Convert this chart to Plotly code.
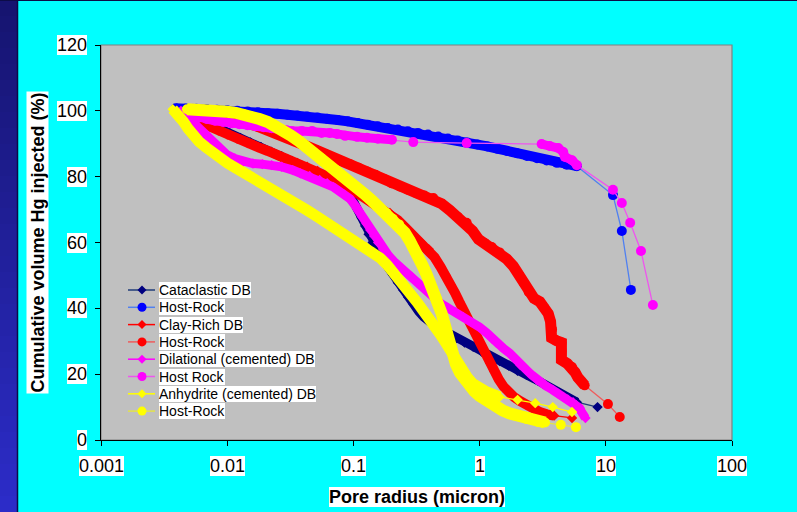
import math
import plotly.graph_objects as go

# ---------------------------------------------------------------
# Mercury injection curves: pore radius (micron) vs cumulative
# volume of Hg injected (%), deformation bands and their host rocks
# ---------------------------------------------------------------
cat_db_r = [0.0042, 0.005, 0.006, 0.0072, 0.0087, 0.0105, 0.0127, 0.0153, 0.0185, 0.0223,
            0.027, 0.0326, 0.039, 0.047, 0.056, 0.066, 0.077, 0.088, 0.1, 0.108,
            0.116, 0.124, 0.132, 0.142, 0.155, 0.17, 0.187, 0.205, 0.225, 0.248,
            0.272, 0.3, 0.33, 0.36, 0.4, 0.45, 0.51, 0.58, 0.66, 0.76,
            0.89, 1.04, 1.22, 1.44, 1.7, 2.0, 2.35, 2.75, 3.2, 3.7,
            4.3, 5.0, 5.9, 8.6]
cat_db_hg = [100, 99, 97.6, 96.2, 94.6, 93.2, 91.8, 90.4, 89, 87.6,
             86.2, 84.8, 83.4, 81.8, 80, 78.2, 76.4, 74.5, 72.5, 70,
             67.5, 65, 62.5, 60, 57.6, 55.2, 52.6, 50.2, 47.8, 45.6,
             43.4, 41.2, 39, 37.4, 35.8, 34.4, 33.4, 32.2, 31, 29.6,
             28.3, 26.8, 25.4, 24, 22.6, 21, 19.8, 18.5, 17, 15.6,
             14.2, 12.8, 11.5, 10]

host_blue_r = [0.0039, 0.0047, 0.0057, 0.0069, 0.0083, 0.01, 0.012, 0.0145, 0.0175, 0.021,
               0.025, 0.03, 0.036, 0.043, 0.052, 0.062, 0.075, 0.09, 0.108, 0.13,
               0.156, 0.187, 0.225, 0.27, 0.325, 0.39, 0.47, 0.56, 0.67, 0.8,
               0.96, 1.15, 1.38, 1.65, 1.98, 2.37, 2.85, 3.4, 4.1, 4.9,
               5.9, 11.4, 13.4, 15.8]
host_blue_hg = [100.8, 100.7, 100.6, 100.5, 100.3, 100.2, 100, 99.8, 99.6, 99.3,
                99.1, 98.8, 98.6, 98.3, 98, 97.6, 97.2, 96.8, 96.3, 95.8,
                95.3, 94.8, 94.3, 93.8, 93.3, 92.8, 92.2, 91.6, 91, 90.4,
                89.8, 89.2, 88.5, 87.8, 87.1, 86.3, 85.6, 84.9, 84.2, 83.6,
                83.2, 74.4, 63.5, 45.6]

clay_db_r = [0.0048, 0.0054, 0.0062, 0.0072, 0.0085, 0.01, 0.012, 0.0145, 0.0175, 0.021,
             0.025, 0.03, 0.036, 0.043, 0.052, 0.062, 0.074, 0.088, 0.104, 0.122,
             0.143, 0.167, 0.195, 0.225, 0.26, 0.3, 0.345, 0.395, 0.44, 0.49,
             0.54, 0.59, 0.64, 0.69, 0.74, 0.8, 0.87, 0.95, 1.03, 1.12,
             1.21, 1.31, 1.42, 1.55, 1.7, 1.88, 2.1, 2.35, 2.65, 3.0,
             3.4, 3.9, 5.4]
clay_db_hg = [100, 98.3, 96.6, 95.3, 94, 92.8, 91.5, 90.2, 89, 87.8,
              86.6, 85.4, 84.2, 83, 81.7, 80.3, 78.8, 77.2, 75.5, 73.8,
              72.2, 70.6, 69, 66.8, 64.4, 62, 60, 58, 55.5, 52.6,
              50, 47.2, 44.6, 42, 39.6, 37, 34.3, 31.6, 28.8, 26,
              23.4, 20.8, 18.4, 16.2, 14.4, 13, 11.8, 10.6, 9.6, 8.5,
              7.8, 7.4, 6.7]

host_red_r = [0.0052, 0.006, 0.007, 0.0082, 0.0096, 0.0112, 0.013, 0.0152, 0.0177, 0.0206,
              0.024, 0.028, 0.0325, 0.038, 0.044, 0.051, 0.06, 0.07, 0.081, 0.094,
              0.11, 0.128, 0.15, 0.175, 0.2, 0.233, 0.27, 0.315, 0.365, 0.43,
              0.5, 0.58, 0.67, 0.79, 0.88, 0.98, 1.1, 1.25, 1.44, 1.64,
              1.85, 2.05, 2.25, 2.45, 2.7, 3.0, 3.25, 3.5, 3.65, 3.75,
              3.72, 4.05, 4.45, 4.45, 4.45, 4.95, 5.4, 5.7, 6.0, 6.4,
              6.8, 10.4, 12.9]
host_red_hg = [100.5, 100, 99.3, 98.7, 98, 97.4, 96.8, 96, 95.2, 94.3,
               93.4, 92.3, 91.2, 90.2, 89.1, 88, 86.9, 85.7, 84.7, 83.8,
               82.7, 81.6, 80.6, 79.3, 78, 77, 76, 75, 74.3, 73.5,
               71.8, 69.8, 67.8, 66, 63.5, 61, 59.8, 58.6, 57, 55,
               52.8, 50.3, 47.6, 45, 43, 42, 40.2, 38.4, 36, 33.6,
               31, 30.2, 29.6, 27, 24.3, 23.2, 22.2, 20.6, 19, 17.8,
               16.6, 10.9, 7]

dil_db_r = [0.0043, 0.0048, 0.0053, 0.0058, 0.0064, 0.007, 0.0078, 0.0088, 0.01, 0.0115,
            0.0134, 0.016, 0.019, 0.0225, 0.027, 0.033, 0.038, 0.045, 0.054, 0.062,
            0.069, 0.077, 0.085, 0.094, 0.102, 0.11, 0.118, 0.127, 0.136, 0.146,
            0.157, 0.172, 0.19, 0.21, 0.235, 0.26, 0.29, 0.32, 0.36, 0.4,
            0.45, 0.5, 0.56, 0.64, 0.74, 0.86, 1.0, 1.14, 1.25, 1.36,
            1.55, 1.73, 1.9, 2.1, 2.35, 2.6, 2.85, 3.3, 3.8, 4.2,
            4.6, 5.0, 5.5, 5.85, 6.2, 6.5, 6.9]
dil_db_hg = [100, 98.7, 97, 95.2, 93.5, 91.8, 90, 88.3, 86.6, 85.5,
             84.5, 84, 83.8, 83.5, 83, 82, 81, 80.2, 79, 78,
             76.9, 75.6, 74.5, 73.3, 71.5, 69.6, 67.7, 65.8, 63.8, 62,
             60, 58, 56, 54.2, 52.4, 51, 49.6, 48, 46.3, 44.6,
             42.8, 41.3, 40.2, 38.9, 37.4, 35.8, 34.3, 32.5, 30.8, 29.5,
             27.8, 26.4, 24.6, 22.8, 21.3, 19.7, 18.2, 16.6, 15.2, 14.1,
             13.1, 12.3, 11.5, 10.6, 9.7, 8.2, 6.7]

host_mag_r = [0.0046, 0.0052, 0.006, 0.0069, 0.008, 0.0093, 0.0108, 0.0125, 0.0145, 0.0168,
              0.0195, 0.0225, 0.026, 0.0295, 0.0325, 0.039, 0.047, 0.056, 0.065, 0.074,
              0.086, 0.107, 0.128, 0.156, 0.202, 0.298, 0.79, 3.1, 3.6, 4.2,
              4.6, 4.75, 5.4, 5.9, 11.4, 13.4, 15.6, 19.0, 23.6]
host_mag_hg = [99.5, 98.7, 98, 97.5, 97, 96.6, 96.2, 95.9, 95.6, 95.3,
               95, 94.7, 94.4, 94.1, 93.9, 93.9, 93.9, 93.3, 93.3, 93,
               92.4, 92.1, 91.8, 91.5, 91.2, 90.5, 90.2, 89.9, 89.3, 88.7,
               87.5, 86, 85, 83.5, 76, 72, 66, 57.4, 41]

anh_db_r = [0.0037, 0.0041, 0.0045, 0.0049, 0.0054, 0.006, 0.0068, 0.0077, 0.0088, 0.01,
            0.0115, 0.0134, 0.0155, 0.018, 0.021, 0.025, 0.03, 0.036, 0.043, 0.052,
            0.062, 0.074, 0.088, 0.105, 0.127, 0.145, 0.163, 0.185, 0.21, 0.235,
            0.26, 0.29, 0.32, 0.355, 0.4, 0.445, 0.49, 0.54, 0.59, 0.65,
            0.72, 0.8, 0.88, 0.98, 1.14, 1.44, 2.0, 2.76, 3.8, 5.4]
anh_db_hg = [100.5, 98.8, 96.7, 94.6, 92.5, 90.6, 88.9, 87.2, 85.6, 84.2,
             82.8, 81.4, 80, 78.6, 77, 75.2, 73.5, 71.6, 69.8, 67.8,
             66, 64.3, 62.4, 60.5, 58.6, 57, 55.3, 53.2, 50.8, 48.6,
             46.6, 44, 41.8, 39.4, 37, 34.6, 32, 29.5, 26.8, 24,
             21.3, 19, 17.2, 15.8, 14.6, 13.1, 12.2, 11.2, 10, 8.5]

host_yel_r = [0.0048, 0.0056, 0.0065, 0.0075, 0.0087, 0.01, 0.0117, 0.0135, 0.0155, 0.018,
              0.021, 0.0245, 0.028, 0.032, 0.037, 0.042, 0.048, 0.055, 0.062, 0.07,
              0.08, 0.092, 0.106, 0.122, 0.14, 0.16, 0.182, 0.205, 0.23, 0.255,
              0.28, 0.305, 0.33, 0.355, 0.38, 0.405, 0.43, 0.455, 0.48, 0.5,
              0.52, 0.54, 0.56, 0.585, 0.615, 0.65, 0.7, 0.76, 0.83, 0.91,
              1.0, 1.1, 1.22, 1.36, 1.52, 1.72, 1.98, 2.35, 2.9, 3.3,
              4.4, 5.8]
host_yel_hg = [100.5, 100.5, 100.3, 100.1, 99.9, 99.7, 99.4, 99, 98.3, 97.5,
               96.6, 95.4, 94, 92.5, 90.8, 89.2, 87.5, 85.7, 84, 82.2,
               80.2, 78.3, 76.5, 74.8, 72.8, 70.8, 69, 67.2, 65.5, 63,
               60.5, 58.2, 55.6, 52.8, 50.3, 48, 45.6, 43.2, 40.8, 38.5,
               36, 33.4, 30.8, 28.2, 25.6, 23, 20.4, 18.2, 16.4, 14.8,
               13.4, 12.2, 11.1, 10, 9, 8.1, 7.3, 6.4, 5.5, 5.3,
               4.6, 3.9]

series_names = ["Cataclastic DB", "Host-Rock", "Clay-Rich DB", "Host-Rock",
                "Dilational (cemented) DB", "Host Rock",
                "Anhydrite (cemented) DB", "Host-Rock"]
series_x = [cat_db_r, host_blue_r, clay_db_r, host_red_r,
            dil_db_r, host_mag_r, anh_db_r, host_yel_r]
series_y = [cat_db_hg, host_blue_hg, clay_db_hg, host_red_hg,
            dil_db_hg, host_mag_hg, anh_db_hg, host_yel_hg]

x_tick_vals = [0.001, 0.01, 0.1, 1, 10, 100]
x_tick_text = ["0.001", "0.01", "0.1", "1", "10", "100"]
y_tick_vals = [0, 20, 40, 60, 80, 100, 120]
y_tick_text = ["0", "20", "40", "60", "80", "100", "120"]

x_title = "Pore radius (micron)"
y_title = "Cumulative volume Hg injected (%)"

# ---------------------------------------------------------------
# styling
# ---------------------------------------------------------------
styles = [
    dict(mcolor="#000080", lcolor="#203C78", symbol="diamond", msize=8, band=9),
    dict(mcolor="#0000FF", lcolor="#5080F0", symbol="circle", msize=10, band=10),
    dict(mcolor="#FF0000", lcolor="#FF0000", symbol="diamond", msize=8, band=10),
    dict(mcolor="#FF0000", lcolor="#EE5C5C", symbol="circle", msize=10, band=11),
    dict(mcolor="#FF00FF", lcolor="#FF00FF", symbol="diamond", msize=8, band=9),
    dict(mcolor="#FF00FF", lcolor="#EE55EE", symbol="circle", msize=10, band=9),
    dict(mcolor="#FFFF00", lcolor="#FFFF00", symbol="diamond", msize=8, band=11),
    dict(mcolor="#FFFF00", lcolor="#E2E24A", symbol="circle", msize=10, band=12),
]

W, H = 797, 512
ML, MR, MT, MB = 101, 65, 45, 72
PW, PH = W - ML - MR, H - MT - MB
X_RANGE = (-3, 2)
Y_RANGE = (0, 120)
PX_PER_DECADE = PW / (X_RANGE[1] - X_RANGE[0])
PX_PER_UNIT = PH / (Y_RANGE[1] - Y_RANGE[0])
FONT = "Liberation Sans, Arial, sans-serif"
CYAN = "#00FFFF"


def P(px):
    """Horizontal page pixel -> paper fraction."""
    return (px - ML) / PW


def Q(py):
    """Vertical page pixel -> paper fraction."""
    return (MT + PH - py) / PH


def band_path(xs, ys, gap=14.5):
    """Closely spaced readings merge into a solid band; wide gaps stay open."""
    bx, by = [xs[0]], [ys[0]]
    for i in range(1, len(xs)):
        dx = abs(math.log10(xs[i] / xs[i - 1])) * PX_PER_DECADE
        dy = abs(ys[i] - ys[i - 1]) * PX_PER_UNIT
        if math.hypot(dx, dy) > gap:
            bx.append(None)
            by.append(None)
        bx.append(xs[i])
        by.append(ys[i])
    return bx, by


fig = go.Figure()

for name, xs, ys, st in zip(series_names, series_x, series_y, styles):
    fig.add_trace(go.Scatter(x=xs, y=ys, mode="lines", name=name,
                             line=dict(color=st["lcolor"], width=1.3),
                             showlegend=False, hoverinfo="skip"))
    bx, by = band_path(xs, ys)
    fig.add_trace(go.Scatter(x=bx, y=by, mode="lines", name=name,
                             line=dict(color=st["mcolor"], width=st["band"]),
                             showlegend=False, hoverinfo="skip",
                             connectgaps=False))
    fig.add_trace(go.Scatter(x=xs, y=ys, mode="markers", name=name,
                             marker=dict(symbol=st["symbol"], size=st["msize"],
                                         color=st["mcolor"], line=dict(width=0)),
                             showlegend=False))

shapes = []
annotations = []

# left slide stripe (vertical gradient) and frame edges
n_strips = 32
top_c = (22, 20, 112)
bot_c = (44, 44, 200)
for k in range(n_strips):
    t = k / (n_strips - 1)
    c = tuple(round(top_c[j] + (bot_c[j] - top_c[j]) * t) for j in range(3))
    y_top = H * k / n_strips
    y_bot = H * (k + 1) / n_strips + 0.6
    shapes.append(dict(type="rect", xref="paper", yref="paper", layer="below",
                       x0=P(0), x1=P(17), y0=Q(y_bot), y1=Q(y_top),
                       fillcolor="rgb(%d,%d,%d)" % c, line=dict(width=0)))
shapes.append(dict(type="line", xref="paper", yref="paper", layer="below",
                   x0=P(17.5), x1=P(17.5), y0=Q(H), y1=Q(0),
                   line=dict(color="#0C0C48", width=1.5)))
shapes.append(dict(type="line", xref="paper", yref="paper", layer="below",
                   x0=P(0), x1=P(W), y0=Q(0.5), y1=Q(0.5),
                   line=dict(color="#0C0C48", width=1.2)))

# plot frame (top/right in grey)
shapes.append(dict(type="rect", xref="paper", yref="paper", layer="below",
                   x0=0, x1=1, y0=0, y1=1,
                   line=dict(color="#808080", width=1.2)))

# tick labels with white backgrounds
for v, t in zip(y_tick_vals, y_tick_text):
    annotations.append(dict(x=0, xref="paper", y=v, yref="y", text=t,
                            xanchor="right", yanchor="middle", xshift=-14,
                            showarrow=False, bgcolor="white", borderpad=0,
                            borderwidth=0, font=dict(family=FONT, size=18, color="black")))
for v, t in zip(x_tick_vals, x_tick_text):
    annotations.append(dict(x=math.log10(v), xref="x", y=Q(466.5), yref="paper",
                            text=t, xanchor="center", yanchor="middle",
                            showarrow=False, bgcolor="white", borderpad=0,
                            borderwidth=0, font=dict(family=FONT, size=18, color="black")))

# axis titles
annotations.append(dict(x=0.5, xref="paper", y=Q(496.5), yref="paper",
                        text="<b>%s</b>" % x_title, xanchor="center", yanchor="middle",
                        showarrow=False, bgcolor="white", borderpad=0, borderwidth=0,
                        font=dict(family=FONT, size=18, color="black")))
annotations.append(dict(x=P(37), xref="paper", y=0.5, yref="paper",
                        text="<b>%s</b>" % y_title, textangle=-90,
                        xanchor="center", yanchor="middle",
                        showarrow=False, bgcolor="white", borderpad=1, borderwidth=0,
                        font=dict(family=FONT, size=18, color="black")))

# legend: line + marker key and white-backed label for each series
LEG_ROW0, LEG_STEP = 290, 17.3
for i, (name, st) in enumerate(zip(series_names, styles)):
    ry = LEG_ROW0 + i * LEG_STEP
    shapes.append(dict(type="line", xref="paper", yref="paper",
                       x0=P(128), x1=P(155), y0=Q(ry), y1=Q(ry),
                       line=dict(color=st["lcolor"], width=1.5)))
    if st["symbol"] == "circle":
        shapes.append(dict(type="circle", xref="paper", yref="paper",
                           xsizemode="pixel", ysizemode="pixel",
                           xanchor=P(142), yanchor=Q(ry),
                           x0=-4.5, x1=4.5, y0=-4.5, y1=4.5,
                           fillcolor=st["mcolor"], line=dict(width=0)))
    else:
        shapes.append(dict(type="path", xref="paper", yref="paper",
                           xsizemode="pixel", ysizemode="pixel",
                           xanchor=P(142), yanchor=Q(ry),
                           path="M0,-4.5 L4.5,0 L0,4.5 L-4.5,0 Z",
                           fillcolor=st["mcolor"], line=dict(width=0)))
    annotations.append(dict(x=P(159), xref="paper", y=Q(ry), yref="paper",
                            text=name, xanchor="left", yanchor="middle",
                            showarrow=False, bgcolor="white", borderpad=0,
                            borderwidth=0, font=dict(family=FONT, size=14, color="black")))

fig.update_layout(
    width=W, height=H,
    margin=dict(l=ML, r=MR, t=MT, b=MB, pad=0),
    paper_bgcolor=CYAN,
    plot_bgcolor="#C0C0C0",
    showlegend=False,
    font=dict(family=FONT, color="black"),
    shapes=shapes,
    annotations=annotations,
    xaxis=dict(type="log", range=list(X_RANGE), tickvals=x_tick_vals,
               showticklabels=False, ticks="outside", ticklen=5, tickwidth=1,
               tickcolor="black", showline=True, linecolor="black", linewidth=1,
               showgrid=False, zeroline=False, fixedrange=True),
    yaxis=dict(range=list(Y_RANGE), tickvals=y_tick_vals,
               showticklabels=False, ticks="outside", ticklen=5, tickwidth=1,
               tickcolor="black", showline=True, linecolor="black", linewidth=1,
               showgrid=False, zeroline=False, fixedrange=True),
)

fig.write_html("out.html", config=dict(displayModeBar=False))
